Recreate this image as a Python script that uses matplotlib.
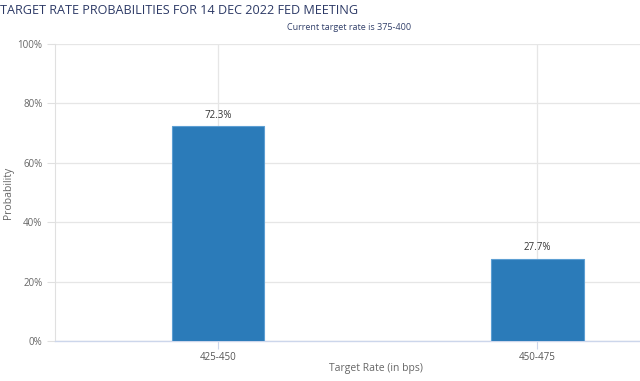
import numpy as np
import matplotlib.pyplot as plt
from matplotlib.ticker import PercentFormatter

# chart data
categories = ['425-450', '450-475']
probabilities = [72.3, 27.7]
y_ticks = [0, 20, 40, 60, 80, 100]

W, H = 640, 381
fig = plt.figure(figsize=(W / 100, H / 100), dpi=100)
plt.rcParams['font.family'] = ['Open Sans', 'DejaVu Sans']

# plot area runs off the right edge like the original screenshot
left, right, top, bottom = 55, 697, 44, 341
ax = fig.add_axes([left / W, 1 - bottom / H, (right - left) / W, (bottom - top) / H])

x = np.arange(len(categories))
bars = ax.bar(x, probabilities, width=0.29, color='#2b7bb9', edgecolor='#5d9fd3',
              linewidth=0.8, zorder=3)

for xi, p in zip(x, probabilities):
    ax.annotate(f'{p}%', (xi, p), xytext=(0, 4), textcoords='offset points',
                ha='center', va='bottom', fontsize=7, color='#333333', zorder=4)

ax.set_xlim(-0.51, 1.5)
ax.set_ylim(0, 100)
ax.set_xticks(x)
ax.set_xticklabels(categories)
ax.set_yticks(y_ticks)
ax.yaxis.set_major_formatter(PercentFormatter(decimals=0))

ax.grid(True, color='#e6e6e6', linewidth=0.9, zorder=0)
for s in ['top', 'right']:
    ax.spines[s].set_visible(False)
ax.spines['left'].set_color('#e0e0e0')
ax.spines['bottom'].set_color('#ccd6eb')
ax.spines['bottom'].set_linewidth(1.0)

ax.tick_params(axis='y', length=6, color='#e0e0e0', labelsize=7, labelcolor='#666666', pad=3)
ax.tick_params(axis='x', length=6, color='#ccd6eb', labelsize=7, labelcolor='#555555', pad=2)

ax.set_ylabel('Probability', fontsize=7.5, color='#666666')
ax.yaxis.set_label_coords((14 - left) / (right - left), 0.5)
ax.set_xlabel('Target Rate (in bps)', fontsize=7.5, color='#666666')
ax.xaxis.set_label_coords(0.5, -(368 - bottom) / (bottom - top))
ax.xaxis.label.set_va('center')

fig.text(0.0, 1 - 10 / H, 'TARGET RATE PROBABILITIES FOR 14 DEC 2022 FED MEETING',
         fontsize=9.1, color='#2d3a66', ha='left', va='center')
fig.text(349 / W, 1 - 28 / H, 'Current target rate is 375-400',
         fontsize=6.5, color='#33416b', ha='center', va='center')

fig.savefig('out.png', dpi=100)
